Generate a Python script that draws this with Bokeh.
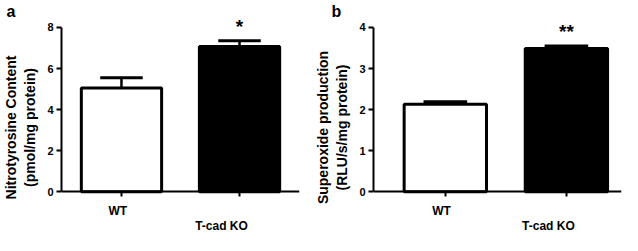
import math
from bokeh.plotting import figure
from bokeh.layouts import row
from bokeh.models import Range1d, FixedTicker, Label, Title
from bokeh.embed import file_html
from bokeh.resources import INLINE

categories = ["WT", "T-cad KO"]
nitro_mean = [5.05, 7.07]
nitro_err = [0.50, 0.28]
nitro_ticks = [0, 2, 4, 6, 8]
superox_mean = [2.13, 3.49]
superox_err = [0.06, 0.06]
superox_ticks = [0, 1, 2, 3, 4]
fills = ["white", "black"]
sig_a = "*"
sig_b = "**"

FONT = "Liberation Sans"
CAT_SIZE = 12


def panel(means, errs, ticks, ylabel, letter, sig, width, mbl, mbr, xr, letter_off):
    span = ticks[-1] - ticks[0]
    ppu = 165.0 / span
    p = figure(width=width, height=235, output_backend="svg", toolbar_location=None,
               x_range=Range1d(*xr), y_range=Range1d(ticks[0] - 44.0 / ppu, ticks[-1] + 8.0 / ppu),
               min_border_left=mbl, min_border_right=mbr, min_border_top=0,
               min_border_bottom=0)
    p.outline_line_color = None
    p.xgrid.visible = False
    p.ygrid.visible = False
    p.background_fill_color = "white"
    p.title.visible = False
    p.add_layout(Title(text=letter, align="left", offset=letter_off, text_font=FONT,
                       text_font_style="bold", text_font_size="16px", standoff=0,
                       text_color="black"), "above")
    xs = list(range(len(categories)))
    p.vbar(x=xs, top=means, bottom=0, width=0.68, fill_color=fills,
           line_color="black", line_width=3)
    tops = [m + e for m, e in zip(means, errs)]
    p.segment(x0=xs, y0=means, x1=xs, y1=tops, line_color="black", line_width=2.5)
    p.segment(x0=[x - 0.18 for x in xs], y0=tops, x1=[x + 0.18 for x in xs], y1=tops,
              line_color="black", line_width=3)
    for ax in (p.xaxis, p.yaxis):
        ax.axis_line_width = 2
        ax.major_tick_line_width = 2
        ax.major_tick_in = 0
        ax.major_tick_out = 5
        ax.minor_tick_line_color = None
        ax.major_label_text_font = FONT
        ax.major_label_text_font_style = "bold"
        ax.major_label_text_font_size = "11px"
        ax.major_label_text_color = "black"
        ax.axis_line_color = "black"
        ax.major_tick_line_color = "black"
    p.xaxis.ticker = FixedTicker(ticks=xs)
    p.xaxis.major_label_overrides = {i: "" for i in xs}
    p.xaxis.fixed_location = ticks[0]
    for i, c in enumerate(categories):
        # centre of a 45-degree label whose end sits just below the tick
        half = 0.56 * CAT_SIZE * len(c) / (2 * math.sqrt(2))
        p.add_layout(Label(x=xs[i], y=ticks[0], x_offset=1 - half, y_offset=-(15 + half),
                           text=c, text_align="center", text_baseline="middle",
                           text_font=FONT, text_font_style="bold",
                           text_font_size=f"{CAT_SIZE}px", text_color="black"))
    p.yaxis.ticker = FixedTicker(ticks=ticks)
    p.yaxis.bounds = (ticks[0], ticks[-1])
    p.yaxis.major_label_standoff = 3
    p.yaxis.axis_label = ylabel
    p.yaxis.axis_label_text_font = FONT
    p.yaxis.axis_label_text_font_style = "bold"
    p.yaxis.axis_label_text_font_size = "14px"
    p.yaxis.axis_label_standoff = 6
    p.yaxis.axis_label_text_color = "black"
    p.add_layout(Label(x=xs[1], y=tops[1], text=sig, text_font=FONT, text_font_style="bold",
                       text_font_size="19px", text_align="center", y_offset=4,
                       text_color="black"))
    return p


pa = panel(nitro_mean, nitro_err, nitro_ticks, "Nitrotyrosine Content\n(pmol/mg protein)",
           "a", sig_a, 312, 49, 13, (-0.508, 1.508), -55)
pb = panel(superox_mean, superox_err, superox_ticks, "Superoxide production\n(RLU/s/mg protein)",
           "b", sig_b, 310, 57, 1, (-0.593, 1.455), -42)

layout = row(pa, pb)
open("out.html", "w").write(file_html(layout, INLINE))
